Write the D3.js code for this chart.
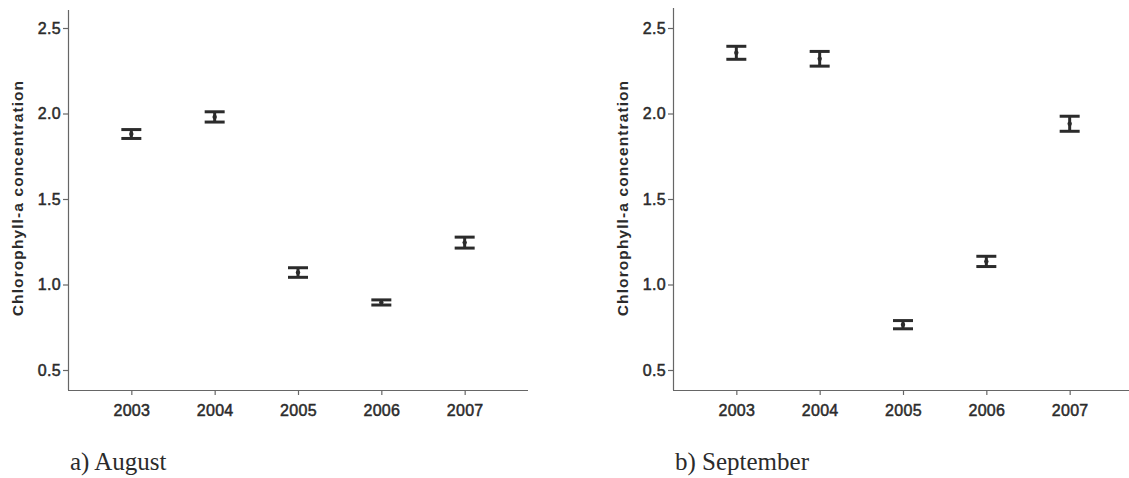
<!DOCTYPE html>
<html>
<head>
<meta charset="utf-8">
<script src="https://cdn.jsdelivr.net/npm/d3@7"></script>
<style>
  body { margin: 0; background: #fff; }
  svg { display: block; }
</style>
</head>
<body>
<svg id="chart" width="1129" height="478"></svg>
<script>
// Data
let years = ["2003", "2004", "2005", "2006", "2007"];
let yTicks = [0.5, 1.0, 1.5, 2.0, 2.5];

let augustMean = [1.88, 1.98, 1.07, 0.895, 1.245];
let augustErr = [0.026, 0.030, 0.028, 0.015, 0.032];

let septemberMean = [2.355, 2.32, 0.765, 1.135, 1.94];
let septemberErr = [0.038, 0.043, 0.024, 0.030, 0.044];

let inkColor = "#2b2b2b";
let axisColor = "#666";

let svg = d3.select("#chart");

/**
 *   x0: left edge of the plot (y axis position)
 *   means / errs: values per year
 *   caption: panel caption
 */
function drawPanel(x0, yTop, means, errs, caption) {
    let g = svg.append("g");
    let plotWidth = 460;
    let yBottom = 390;

    // Setup scales.
    let xScale = d3.scalePoint()
        .domain(years)
        .range([x0, x0 + plotWidth])
        .padding(0.76);

    let yScale = d3.scaleLinear()
        .domain([0.5, 2.0])
        .range([370, 113.5]);

    // Axes.
    let yAxis = d3.axisLeft(yScale)
        .tickValues(yTicks)
        .tickFormat(d3.format(".1f"))
        .tickSize(5)
        .tickSizeOuter(0)
        .tickPadding(2);

    let yAxisG = g.append("g")
        .attr("transform", "translate(" + x0 + ",0)")
        .call(yAxis);
    yAxisG.select(".domain")
        .attr("d", "M0.5," + yTop + "V" + yBottom);

    let xAxis = d3.axisBottom(xScale)
        .tickSize(5)
        .tickSizeOuter(0)
        .tickPadding(10);

    let xAxisG = g.append("g")
        .attr("transform", "translate(0," + yBottom + ")")
        .call(xAxis);
    xAxisG.select(".domain")
        .attr("d", "M" + x0 + ",0.5H" + (x0 + plotWidth));

    [yAxisG, xAxisG].forEach(a => {
        a.selectAll(".domain").attr("stroke", axisColor).attr("stroke-width", 1.2);
        a.selectAll(".tick line").attr("stroke", axisColor).attr("stroke-width", 1.2);
        a.selectAll(".tick text")
            .style("font-family", "Arial, 'Liberation Sans', sans-serif")
            .style("font-size", "16px")
            .style("letter-spacing", "0.3px")
            .style("fill", inkColor)
            .attr("stroke", inkColor)
            .attr("stroke-width", 0.5);
    });

    // Axis title.
    g.append("text")
        .attr("transform", "translate(" + (x0 - 45) + ",198) rotate(-90)")
        .style("text-anchor", "middle")
        .style("font-family", "Arial, 'Liberation Sans', sans-serif")
        .style("font-weight", "bold")
        .style("font-size", "15.5px")
        .style("letter-spacing", "1.1px")
        .style("fill", inkColor)
        .text("Chlorophyll-a concentration");

    // Error bars.
    let capHalf = 10;
    years.forEach((yr, i) => {
        let cx = xScale(yr);
        let yHi = yScale(means[i] + errs[i]);
        let yLo = yScale(means[i] - errs[i]);

        g.append("line")
            .attr("x1", cx).attr("x2", cx)
            .attr("y1", yHi).attr("y2", yLo)
            .attr("stroke", inkColor)
            .attr("stroke-width", 3);

        [yHi, yLo].forEach(yy => {
            g.append("line")
                .attr("x1", cx - capHalf).attr("x2", cx + capHalf)
                .attr("y1", yy).attr("y2", yy)
                .attr("stroke", inkColor)
                .attr("stroke-width", 3);
        });

        g.append("circle")
            .attr("cx", cx)
            .attr("cy", yScale(means[i]))
            .attr("r", 2.2)
            .attr("fill", inkColor);
    });

    // Caption.
    g.append("text")
        .attr("x", x0 + 2)
        .attr("y", 470)
        .style("font-family", "'Liberation Serif', 'Times New Roman', serif")
        .style("font-size", "25px")
        .style("fill", inkColor)
        .text(caption);
}

drawPanel(68, 10, augustMean, augustErr, "a) August");
drawPanel(673, 8, septemberMean, septemberErr, "b) September");
</script>
</body>
</html>
